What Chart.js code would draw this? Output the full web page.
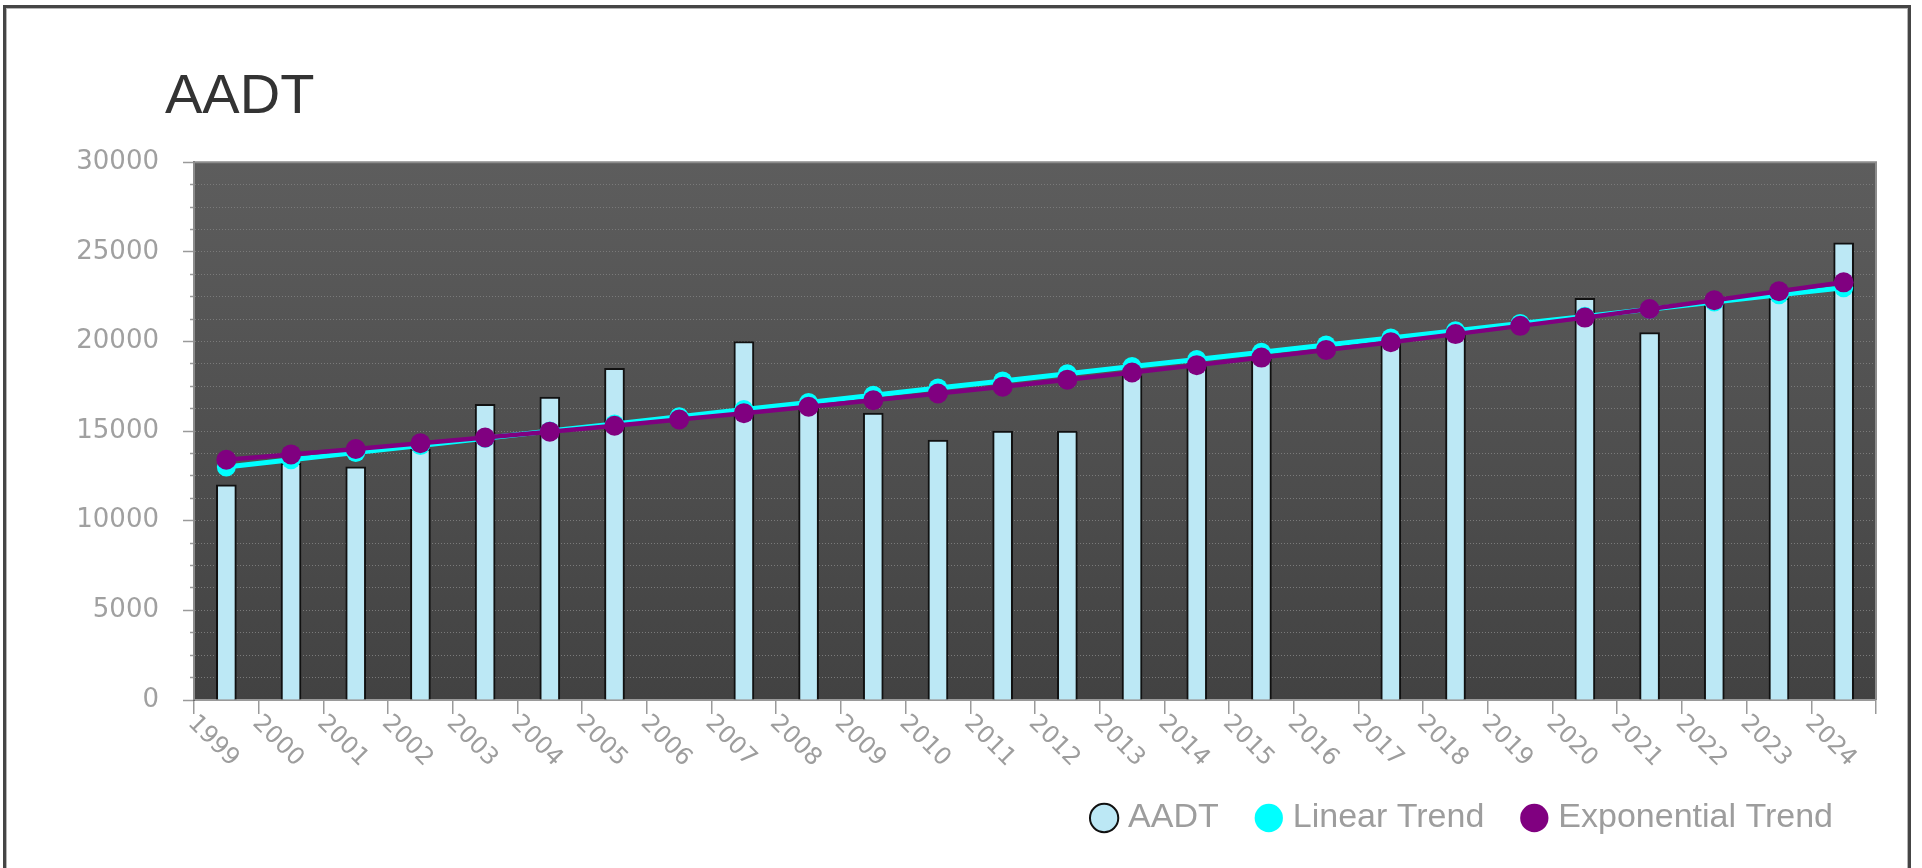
<!DOCTYPE html>
<html>
<head>
<meta charset="utf-8">
<script src="https://cdn.jsdelivr.net/npm/chart.js@4.4.1/dist/chart.umd.min.js"></script>
<style>
  html, body { margin: 0; padding: 0; background: #fff; overflow: hidden; }
  #wrap { position: relative; width: 1922px; height: 868px; }
  #frame {
    position: absolute; left: 3px; top: 5px; width: 1902px; height: 900px;
    border: 3px solid #454545;
    box-shadow: inset 1px 1px 0 #b5b5b5, inset -1px 0 0 #b5b5b5;
  }
  canvas { position: absolute; left: 0; top: 0; }
</style>
</head>
<body>
<div id="wrap">
  <div id="frame"></div>
  <canvas id="miCanvas" width="1922" height="868"></canvas>
</div>
<script>
// valores
const years = ["1999", "2000", "2001", "2002", "2003", "2004", "2005", "2006", "2007", "2008", "2009", "2010", "2011",
  "2012", "2013", "2014", "2015", "2016", "2017", "2018", "2019", "2020", "2021", "2022", "2023", "2024"];
const aadt = [12000, 13200, 13000, 14000, 16500, 16900, 18500, null, 20000, 16300, 16000, 14500, 15000,
  15000, 18100, 18600, 19000, null, 20100, 20500, null, 22400, 20500, 22100, 22400, 25500];
const linearTrend = [13000, 13400, 13800, 14200, 14600, 15000, 15400, 15800, 16200, 16600, 17000, 17400, 17800,
  18200, 18600, 19000, 19400, 19800, 20200, 20600, 21000, 21400, 21800, 22200, 22600, 23000];
const expTrend = [13400, 13700, 14000, 14320, 14640, 14970, 15300, 15650, 16000, 16360, 16720, 17100, 17480,
  17870, 18270, 18680, 19100, 19530, 19960, 20410, 20870, 21330, 21810, 22300, 22800, 23300];
const yTicksMajor = [0, 5000, 10000, 15000, 20000, 25000, 30000];

const fontFam = '"Liberation Sans", Arial, sans-serif';
const tickFam = '"DejaVu Sans", "Liberation Sans", sans-serif';

// fondo del area del grafico + etiquetas del eje x inclinadas
const plotBg = {
  id: "plotBg",
  afterLayout(chart) {
    // el titulo empieza un poco a la izquierda del area del grafico
    if (chart.titleBlock) chart.titleBlock.left = 165;
  },
  beforeDraw(chart) {
    const { ctx, chartArea: a } = chart;
    const g = ctx.createLinearGradient(0, a.top, 0, a.bottom);
    g.addColorStop(0, "#5d5d5d");
    g.addColorStop(1, "#424242");
    ctx.save();
    ctx.fillStyle = g;
    ctx.fillRect(a.left, a.top, a.right - a.left, a.bottom - a.top);
    ctx.restore();
  },
  beforeDatasetsDraw(chart) {
    const { ctx, chartArea: a } = chart;
    ctx.save();
    ctx.strokeStyle = "#8c8c8c";
    ctx.lineWidth = 2;
    ctx.beginPath();
    ctx.moveTo(a.left, a.bottom);
    ctx.lineTo(a.left, a.top);
    ctx.lineTo(a.right, a.top);
    ctx.lineTo(a.right, a.bottom);
    ctx.stroke();
    ctx.restore();
  },
  afterDraw(chart) {
    const { ctx } = chart;
    const xs = chart.scales.x;
    const w = (xs.right - xs.left) / years.length;
    ctx.save();
    ctx.font = "24px " + tickFam;
    ctx.fillStyle = "#9d9d9d";
    ctx.textAlign = "left";
    ctx.textBaseline = "top";
    years.forEach((y, i) => {
      const x0 = xs.getPixelForValue(i) - w / 2;
      ctx.save();
      ctx.translate(x0 + 6, xs.top + 11);
      ctx.rotate(Math.PI / 4);
      ctx.fillText(y, 0, 0);
      ctx.restore();
    });
    ctx.restore();
  }
};

const ctx = document.getElementById("miCanvas");

const myChart = new Chart(ctx, {
  type: "bar",
  data: {
    labels: years,
    datasets: [
      {
        label: "AADT",
        data: aadt,
        backgroundColor: "#bce8f5",
        borderColor: "#111111",
        borderWidth: 2,
        barThickness: 20,
        order: 2
      },
      {
        type: "line",
        label: "Linear Trend",
        data: linearTrend,
        borderColor: "#00ffff",
        backgroundColor: "#00ffff",
        borderWidth: 5,
        pointRadius: 9.5,
        pointBorderWidth: 0,
        pointBackgroundColor: "#00ffff",
        order: 1
      },
      {
        type: "line",
        label: "Exponential Trend",
        data: expTrend,
        borderColor: "#800080",
        backgroundColor: "#800080",
        borderWidth: 4.5,
        pointRadius: 10,
        pointBorderWidth: 0,
        pointBackgroundColor: "#800080",
        order: 0
      }
    ]
  },
  options: {
    responsive: false,
    animation: false,
    events: [],
    layout: { padding: { left: 50, right: 46, top: 0, bottom: 23 } },
    scales: {
      x: {
        afterFit(s) { s.height = 58; },
        ticks: { display: false },
        grid: { drawOnChartArea: false, tickLength: 14, color: "#9a9a9a", lineWidth: 1.5 },
        border: { display: true, color: "#9a9a9a", width: 2 }
      },
      y: {
        min: 0,
        max: 30000,
        afterFit(s) { s.width = 144; },
        ticks: {
          stepSize: 1250,
          autoSkip: false,
          padding: 24,
          color: "#a0a0a0",
          font: { family: tickFam, size: 26 },
          callback: (v) => (yTicksMajor.includes(v) ? v : "")
        },
        grid: {
          color: "#7a7a7a",
          lineWidth: 1,
          tickLength: 11,
          tickColor: "#9a9a9a",
          tickWidth: 1.5,
          tickBorderDash: (c) => (c.tick && yTicksMajor.includes(c.tick.value) ? [] : [0, 7, 4, 0])
        },
        border: { display: true, color: "#6a6a6a", width: 2, dash: [1, 2] }
      }
    },
    plugins: {
      title: {
        display: true,
        text: "AADT",
        align: "start",
        color: "#333333",
        font: { family: fontFam, size: 56, weight: "normal" },
        padding: { top: 64, bottom: 31 }
      },
      legend: {
        position: "bottom",
        align: "end",
        labels: {
          usePointStyle: true,
          pointStyle: "circle",
          boxWidth: 14,
          boxHeight: 20,
          padding: 43,
          color: "#9d9d9d",
          font: { family: fontFam, size: 34 },
          sort: (a, b) => a.datasetIndex - b.datasetIndex
        }
      },
      tooltip: { enabled: false }
    }
  },
  plugins: [plotBg]
});
</script>
</body>
</html>
